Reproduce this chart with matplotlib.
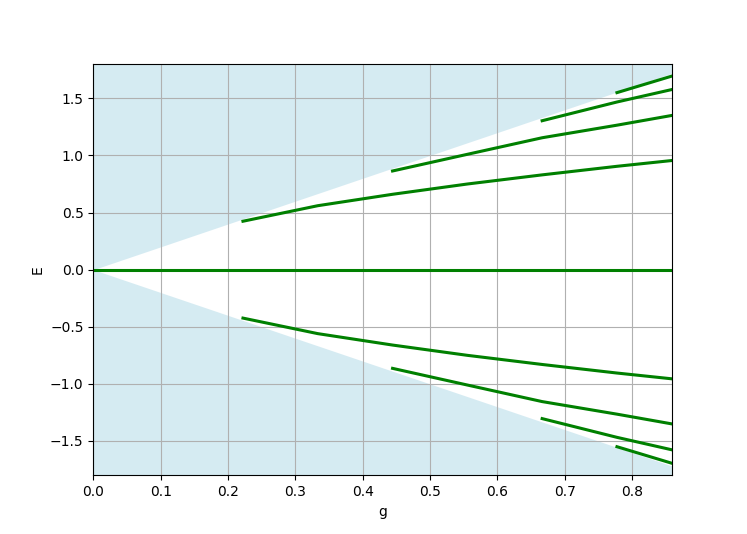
import numpy as np
from matplotlib import pyplot as plt

# valores: g em passos de 1/9, ultimo ponto na borda (0.86)
g_borda = [0.0, 0.86]
g_1 = [2/9, 3/9, 4/9, 5/9, 6/9, 7/9, 0.86]
E_1 = [0.424, 0.560, 0.660, 0.750, 0.830, 0.905, 0.956]
g_2 = [4/9, 5/9, 6/9, 7/9, 0.86]
E_2 = [0.864, 1.010, 1.155, 1.265, 1.351]
g_3 = [6/9, 7/9, 0.86]
E_3 = [1.304, 1.468, 1.578]
g_4 = [7/9, 0.86]
E_4 = [1.550, 1.696]

figura = plt.figure(figsize=(7.47, 5.34), dpi=100)

# regiao do continuo, |E| > 2g
g_fill = np.array(g_borda)
plt.fill_between(g_fill, 2 * g_fill, 1.8, color='lightblue', alpha=0.5, linewidth=0)
plt.fill_between(g_fill, -2 * g_fill, -1.8, color='lightblue', alpha=0.5, linewidth=0)

plt.plot(g_borda, [0, 0], c='green', lw=2.2)
for gs, Es in [(g_1, E_1), (g_2, E_2), (g_3, E_3), (g_4, E_4)]:
    plt.plot(gs, Es, c='green', lw=2.2)
    plt.plot(gs, [-e for e in Es], c='green', lw=2.2)

plt.xlim(0, 0.86)
plt.ylim(-1.8, 1.8)
plt.xlabel('g')
plt.ylabel('E')
plt.grid(True)

plt.savefig('out.png')
